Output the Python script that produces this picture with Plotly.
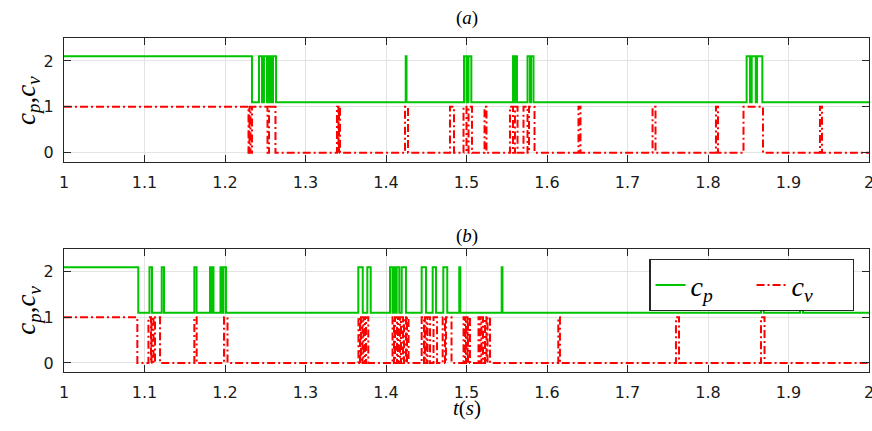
import plotly.graph_objects as go

# ---- data: intervals (start, end) in seconds where each signal is "high" ----
t_start, t_end = 1.0, 2.0
cp_high, cp_low = 2.1, 1.1
cv_high, cv_low = 1.0, 0.0

cp_a = [(1.0, 1.2335), (1.2422, 1.2460), (1.2484, 1.2522), (1.2547, 1.2571), (1.2596, 1.2634),
        (1.4245, 1.4255),
        (1.4969, 1.5000), (1.5025, 1.5060),
        (1.5578, 1.5596), (1.5609, 1.5627),
        (1.5758, 1.5789), (1.5801, 1.5832),
        (1.8480, 1.8522), (1.8543, 1.8593), (1.8609, 1.8675)]

cv_a = [(1.0, 1.2292), (1.2304, 1.2317), (1.2335, 1.2528), (1.2547, 1.2627),
        (1.3391, 1.3410), (1.3416, 1.3429),
        (1.4236, 1.4273),
        (1.4795, 1.4845),
        (1.4963, 1.5000), (1.5025, 1.5068),
        (1.5224, 1.5248),
        (1.5540, 1.5578), (1.5602, 1.5634),
        (1.5708, 1.5758), (1.5776, 1.5845),
        (1.6391, 1.6416),
        (1.7311, 1.7348),
        (1.8099, 1.8124),
        (1.8441, 1.8683),
        (1.9391, 1.9416)]

cp_b = [(1.0, 1.0923),
        (1.1062, 1.1093),
        (1.1214, 1.1242),
        (1.1619, 1.1647),
        (1.1814, 1.1832), (1.1842, 1.1857),
        (1.1944, 1.1969), (1.1981, 1.2012),
        (1.3656, 1.3711),
        (1.3768, 1.3810),
        (1.4050, 1.4081), (1.4087, 1.4112), (1.4133, 1.4165), (1.4195, 1.4248),
        (1.4443, 1.4497),
        (1.4580, 1.4621),
        (1.4712, 1.4761),
        (1.4910, 1.4923),
        (1.5437, 1.5447),
        (1.8658, 1.8692),
        (1.9143, 1.9180)]

cv_b = [(1.0, 1.0911),
        (1.1049, 1.1081), (1.1087, 1.1112), (1.1130, 1.1193),
        (1.1619, 1.1648),
        (1.1988, 1.2031),
        (1.3658, 1.3677), (1.3689, 1.3708), (1.3720, 1.3739), (1.3752, 1.3780),
        (1.4081, 1.4099), (1.4112, 1.4137), (1.4149, 1.4174), (1.4186, 1.4211),
        (1.4224, 1.4248), (1.4261, 1.4280),
        (1.4443, 1.4472), (1.4484, 1.4503), (1.4516, 1.4547),
        (1.4590, 1.4634),
        (1.4704, 1.4733), (1.4745, 1.4814),
        (1.4963, 1.4981), (1.4994, 1.5012), (1.5019, 1.5043),
        (1.5149, 1.5174), (1.5186, 1.5205), (1.5230, 1.5248), (1.5261, 1.5292),
        (1.6140, 1.6161),
        (1.7602, 1.7640),
        (1.8658, 1.8702)]

x_tickvals = [1.0, 1.1, 1.2, 1.3, 1.4, 1.5, 1.6, 1.7, 1.8, 1.9, 2.0]
x_ticktext = ["1", "1.1", "1.2", "1.3", "1.4", "1.5", "1.6", "1.7", "1.8", "1.9", "2"]
y_tickvals = [0, 1, 2]
y_ticktext = ["0", "1", "2"]


def steps(intervals, hi, lo):
    xs, ys = [], []
    if intervals[0][0] > t_start:
        xs.append(t_start); ys.append(lo)
    for s, e in intervals:
        xs += [s, e]
        ys += [hi, lo]
    xs.append(t_end); ys.append(lo)
    return xs, ys


GREEN = "#00c400"
RED = "#ff0000"
DASH = "8px,3px,2px,3px"

fig = go.Figure()
for panel, (cp, cv) in enumerate([(cp_a, cv_a), (cp_b, cv_b)]):
    xa = "x" if panel == 0 else "x2"
    ya = "y" if panel == 0 else "y2"
    x1, y1 = steps(cp, cp_high, cp_low)
    x2, y2 = steps(cv, cv_high, cv_low)
    fig.add_trace(go.Scatter(x=x1, y=y1, mode="lines", line_shape="hv",
                             line=dict(color=GREEN, width=2),
                             name="<i>c<sub>p</sub></i>", showlegend=(panel == 1),
                             xaxis=xa, yaxis=ya))
    fig.add_trace(go.Scatter(x=x2, y=y2, mode="lines", line_shape="hv",
                             line=dict(color=RED, width=2, dash=DASH),
                             name="<i>c<sub>v</sub></i>", showlegend=(panel == 1),
                             xaxis=xa, yaxis=ya))

axis_common = dict(showline=True, linecolor="#262626", linewidth=1.3, mirror="ticks",
                   ticks="inside", ticklen=7, tickcolor="#262626", tickwidth=1.3,
                   showgrid=True, gridcolor="#e3e3e3", gridwidth=1, zeroline=False,
                   automargin=False, ticklabeloverflow="allow",
                   tickfont=dict(family="DejaVu Sans", size=16, color="#1a1a1a"))

fig.update_layout(
    width=872, height=431,
    margin=dict(l=64, r=3, t=38, b=59, autoexpand=False),
    plot_bgcolor="white", paper_bgcolor="white",
    xaxis=dict(domain=[0, 1], anchor="y", range=[1, 2], tickvals=x_tickvals,
               ticktext=x_ticktext, ticklabelstandoff=6, **axis_common),
    yaxis=dict(domain=[0.629, 1], anchor="x", range=[-0.2, 2.5], tickvals=y_tickvals,
               ticktext=y_ticktext, ticklabelstandoff=6, **axis_common),
    xaxis2=dict(domain=[0, 1], anchor="y2", range=[1, 2], tickvals=x_tickvals,
                ticktext=x_ticktext, ticklabelstandoff=6, **axis_common),
    yaxis2=dict(domain=[0, 0.368], anchor="x2", range=[-0.2, 2.5], tickvals=y_tickvals,
                ticktext=y_ticktext, ticklabelstandoff=6, **axis_common),
    legend=dict(orientation="h", x=0.727, y=0.338, xanchor="left", yanchor="top",
                bgcolor="white", bordercolor="#262626", borderwidth=1.3,
                font=dict(family="Liberation Serif", size=28, color="black"),
                entrywidth=56, tracegroupgap=0),
    showlegend=True,
)

serif = dict(family="Liberation Serif", color="black")
fig.add_annotation(text="(<i>a</i>)", x=0.5, y=1.06, xref="paper", yref="paper",
                   xanchor="center", yanchor="middle",
                   showarrow=False, font=dict(size=19, **serif))
fig.add_annotation(text="(<i>b</i>)", x=0.5, y=0.407, xref="paper", yref="paper",
                   xanchor="center", yanchor="middle",
                   showarrow=False, font=dict(size=19, **serif))
fig.add_annotation(text="<i>t</i>(<i>s</i>)", x=0.5, y=-0.108, xref="paper", yref="paper",
                   xanchor="center", yanchor="middle",
                   showarrow=False, font=dict(size=21, **serif))
for yc in (0.814, 0.186):
    fig.add_annotation(text="<i>c<sub>p</sub></i>,<i>c<sub>v</sub></i>", x=-0.045, y=yc,
                       xref="paper", yref="paper", textangle=-90, showarrow=False,
                       xanchor="center", yanchor="middle",
                       font=dict(size=27, **serif))

fig.write_html("out.html", config={"displayModeBar": False},
               post_script="document.body.style.margin='0';"
                           "document.body.style.overflow='hidden';"
                           "document.documentElement.style.overflow='hidden';")
